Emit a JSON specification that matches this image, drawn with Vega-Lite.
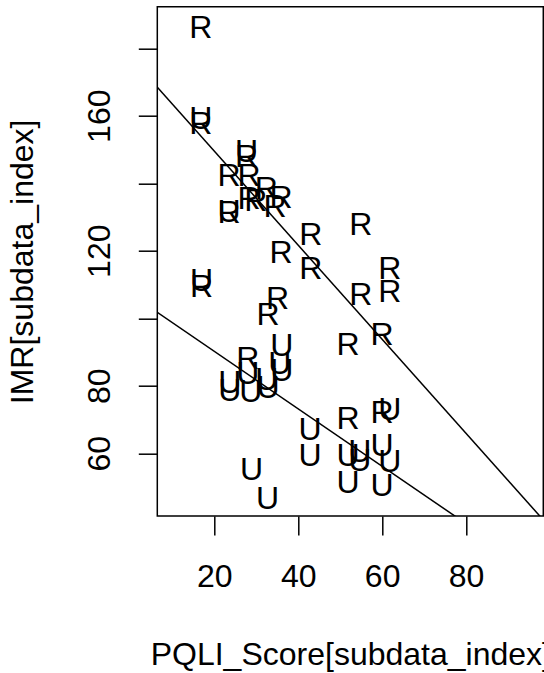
{
  "$schema": "https://vega.github.io/schema/vega-lite/v6.json",
  "autosize": "none",
  "padding": {"left": 157.3, "top": 6.7, "right": 0.7, "bottom": 157},
  "width": 386,
  "height": 509.3,
  "background": "white",
  "config": {
    "view": {"stroke": "black", "strokeWidth": 1.5},
    "font": "Liberation Sans",
    "axis": {
      "grid": false,
      "domain": false,
      "tickColor": "black",
      "tickWidth": 1.5,
      "tickSize": 19,
      "labelColor": "black",
      "labelFont": "Liberation Sans",
      "labelFontSize": 32,
      "titleFont": "Liberation Sans",
      "titleFontSize": 32,
      "titleFontWeight": "normal",
      "titleColor": "black",
      "labelOverlap": false,
      "labelFlush": false
    }
  },
  "datasets": {
    "pts": [
      {"type": "R", "pqli": 16.8, "imr": 186.5},
      {"type": "U", "pqli": 16.8, "imr": 159.7},
      {"type": "R", "pqli": 16.8, "imr": 158.2},
      {"type": "U", "pqli": 27.7, "imr": 149.8},
      {"type": "R", "pqli": 27.7, "imr": 148.4},
      {"type": "R", "pqli": 23.5, "imr": 142.7},
      {"type": "R", "pqli": 28.3, "imr": 142.7},
      {"type": "R", "pqli": 32.4, "imr": 139.0},
      {"type": "R", "pqli": 35.9, "imr": 136.1},
      {"type": "R", "pqli": 28.3, "imr": 135.9},
      {"type": "R", "pqli": 29.9, "imr": 135.3},
      {"type": "R", "pqli": 34.5, "imr": 133.5},
      {"type": "R", "pqli": 23.5, "imr": 131.8},
      {"type": "U", "pqli": 23.5, "imr": 132.1},
      {"type": "R", "pqli": 54.9, "imr": 128.2},
      {"type": "R", "pqli": 43.0, "imr": 125.2},
      {"type": "R", "pqli": 35.9, "imr": 119.9},
      {"type": "R", "pqli": 43.0, "imr": 115.3},
      {"type": "R", "pqli": 61.8, "imr": 115.3},
      {"type": "R", "pqli": 61.8, "imr": 108.4},
      {"type": "R", "pqli": 54.9, "imr": 107.5},
      {"type": "U", "pqli": 17.0, "imr": 111.6},
      {"type": "R", "pqli": 17.0, "imr": 109.8},
      {"type": "R", "pqli": 35.1, "imr": 106.4},
      {"type": "R", "pqli": 32.8, "imr": 101.5},
      {"type": "R", "pqli": 60.0, "imr": 95.6},
      {"type": "R", "pqli": 51.9, "imr": 92.7},
      {"type": "U", "pqli": 36.1, "imr": 92.4},
      {"type": "R", "pqli": 28.0, "imr": 88.6},
      {"type": "U", "pqli": 35.6, "imr": 87.0},
      {"type": "U", "pqli": 36.1, "imr": 84.9},
      {"type": "U", "pqli": 23.7, "imr": 81.4},
      {"type": "U", "pqli": 23.7, "imr": 79.0},
      {"type": "U", "pqli": 28.0, "imr": 84.1},
      {"type": "U", "pqli": 28.7, "imr": 78.7},
      {"type": "U", "pqli": 32.5, "imr": 82.3},
      {"type": "U", "pqli": 32.8, "imr": 79.9},
      {"type": "R", "pqli": 51.9, "imr": 70.6},
      {"type": "R", "pqli": 60.0, "imr": 72.5},
      {"type": "U", "pqli": 61.8, "imr": 73.5},
      {"type": "U", "pqli": 42.8, "imr": 67.6},
      {"type": "U", "pqli": 42.8, "imr": 59.8},
      {"type": "U", "pqli": 51.9, "imr": 59.8},
      {"type": "U", "pqli": 54.7, "imr": 58.3},
      {"type": "U", "pqli": 54.7, "imr": 61.0},
      {"type": "U", "pqli": 60.0, "imr": 62.7},
      {"type": "U", "pqli": 61.8, "imr": 58.0},
      {"type": "U", "pqli": 51.9, "imr": 51.8},
      {"type": "U", "pqli": 60.0, "imr": 50.9},
      {"type": "U", "pqli": 28.9, "imr": 55.6},
      {"type": "U", "pqli": 32.7, "imr": 46.9}
    ],
    "fits": [
      {"line": "rural", "pqli": 0, "imr": 177.4},
      {"line": "rural", "pqli": 100, "imr": 38.0},
      {"line": "urban", "pqli": 0, "imr": 107.2},
      {"line": "urban", "pqli": 100, "imr": 22.1}
    ]
  },
  "layer": [
    {
      "data": {"name": "pts"},
      "mark": {"type": "text", "fontSize": 32, "font": "Liberation Sans", "color": "black", "align": "center", "baseline": "middle", "dy": 2},
      "encoding": {
        "x": {
          "field": "pqli", "type": "quantitative",
          "scale": {"domain": [6.43, 98.4], "nice": false, "zero": false},
          "axis": {
            "title": "PQLI_Score[subdata_index]",
            "values": [20, 40, 60, 80],
            "labelPadding": 26.7,
            "titleY": 148,
            "titleBaseline": "alphabetic",
            "titleAnchor": "middle"
          }
        },
        "y": {
          "field": "imr", "type": "quantitative",
          "scale": {"domain": [41.4, 192.3], "nice": false, "zero": false},
          "axis": {
            "title": "IMR[subdata_index]",
            "values": [60, 80, 100, 120, 140, 160, 180],
            "labelExpr": "(datum.value == 100 || datum.value == 140 || datum.value == 180) ? '' : datum.label",
            "labelAngle": -90,
            "labelAlign": "center",
            "labelBaseline": "alphabetic",
            "labelPadding": 29,
            "titleAngle": -90,
            "titleX": -124.5,
            "titleY": 254.7,
            "titleAlign": "center",
            "titleBaseline": "alphabetic"
          }
        },
        "text": {"field": "type"}
      }
    },
    {
      "data": {"name": "fits"},
      "mark": {"type": "line", "color": "black", "strokeWidth": 1.5, "clip": true},
      "encoding": {
        "x": {"field": "pqli", "type": "quantitative"},
        "y": {"field": "imr", "type": "quantitative"},
        "detail": {"field": "line"}
      }
    }
  ]
}
